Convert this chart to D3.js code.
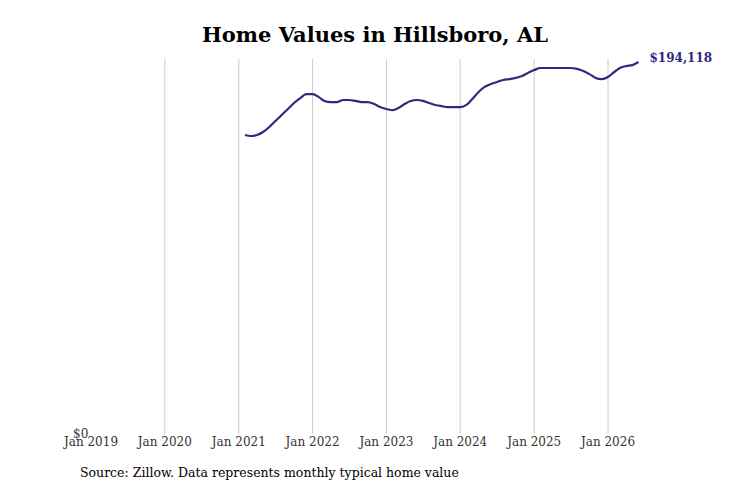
<!DOCTYPE html>
<html>
<head>
<meta charset="utf-8">
<script src="https://cdn.jsdelivr.net/npm/d3@7"></script>
<style>
  body { margin: 0; background: #fff; }
  text { font-family: "DejaVu Serif", serif; }
</style>
</head>
<body>
<svg id="chart" width="731" height="487"></svg>
<script>
// monthly typical home value, Feb 2021 .. Jun 2026
const startMonth = new Date(2021, 1, 1);
const values = [
  156000, 155500, 156000, 157600, 160200, 163300, 166500, 169600, 172700, 175300, 177400,
  177400, 175800, 173800, 173200, 173200, 174300, 174300, 173800, 173200, 173200, 172200, 170600,
  169600, 169000, 170100, 172200, 173800, 174300, 173800, 172700, 171700, 171100, 170600, 170600,
  170600, 171700, 174800, 178500, 181100, 182600, 183700, 184700, 185200, 185800, 186800, 188400,
  189900, 191000, 191000, 191000, 191000, 191000, 191000, 190500, 189400, 187800, 185800, 185200,
  186300, 188900, 191000, 192000, 192500, 194118
];
const tickYears = [2019, 2020, 2021, 2022, 2023, 2024, 2025, 2026];

const data = values.map((v, i) => ({ date: d3.timeMonth.offset(startMonth, i), value: v }));

const svg = d3.select("#chart");

const x = d3.scaleTime()
  .domain([new Date(2019, 0, 1), new Date(2026, 0, 1)])
  .range([91, 608]);
const y = d3.scaleLinear()
  .domain([0, 194118])
  .range([434, 62]);

// gridlines (none at first tick)
svg.append("g")
  .selectAll("line")
  .data(tickYears.slice(1))
  .join("line")
  .attr("x1", d => x(new Date(d, 0, 1)))
  .attr("x2", d => x(new Date(d, 0, 1)))
  .attr("y1", 59)
  .attr("y2", 434)
  .attr("stroke", "#cccccc")
  .attr("stroke-width", 1);

// x tick labels
svg.append("g")
  .selectAll("text")
  .data(tickYears)
  .join("text")
  .attr("x", d => x(new Date(d, 0, 1)))
  .attr("y", 446)
  .attr("text-anchor", "middle")
  .attr("font-size", 12)
  .attr("fill", "#333")
  .text(d => "Jan " + d);

svg.append("text")
  .attr("x", 73).attr("y", 438)
  .attr("font-size", 12).attr("fill", "#333")
  .text("$0");

const line = d3.line()
  .x(d => x(d.date))
  .y(d => y(d.value))
  .curve(d3.curveMonotoneX);

svg.append("path")
  .datum(data)
  .attr("d", line)
  .attr("fill", "none")
  .attr("stroke", "#2e2a82")
  .attr("stroke-width", 2.2);

const last = data[data.length - 1];
svg.append("text")
  .attr("x", x(last.date) + 11)
  .attr("y", y(last.value) + 0)
  .attr("font-size", 12)
  .attr("font-weight", "bold")
  .attr("fill", "#2e2a82")
  .text(d3.format("$,")(last.value));

svg.append("text")
  .attr("x", 375).attr("y", 42)
  .attr("text-anchor", "middle")
  .attr("font-size", 21)
  .attr("font-weight", "bold")
  .text("Home Values in Hillsboro, AL");

svg.append("text")
  .attr("x", 80).attr("y", 477)
  .attr("font-size", 12.5)
  .text("Source: Zillow. Data represents monthly typical home value");
</script>
</body>
</html>
